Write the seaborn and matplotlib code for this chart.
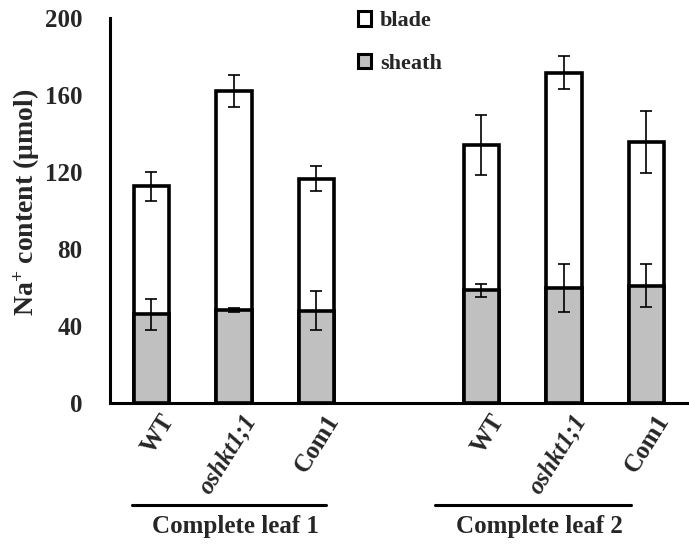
import matplotlib
matplotlib.use("Agg")
import matplotlib.pyplot as plt
import matplotlib.transforms as mtransforms
from matplotlib.patches import Patch
import seaborn as sns
import pandas as pd
import numpy as np

# ---- data ----
genotypes = ["WT", "oshkt1;1", "Com1", "WT", "oshkt1;1", "Com1"]
groups = ["Complete leaf 1", "Complete leaf 2"]
positions = [0, 1, 2, 4, 5, 6]
sheath = [46, 48.5, 48, 58.5, 59.5, 61]
blade = [66.5, 113.5, 68.5, 75.5, 112, 74.5]
sheath_err = [8, 1, 10, 3.5, 12.5, 11]
blade_err = [7.5, 8.5, 6.5, 15.5, 8.5, 16]
yticks = [0, 40, 80, 120, 160, 200]

sns.set_theme(style="white")
plt.rcParams["font.family"] = ["Liberation Serif", "DejaVu Serif"]
plt.rcParams["font.weight"] = "bold"
plt.rcParams["mathtext.fontset"] = "custom"
plt.rcParams["mathtext.rm"] = "Liberation Serif:bold"
plt.rcParams["mathtext.bf"] = "Liberation Serif:bold"
plt.rcParams["mathtext.it"] = "Liberation Serif:bold:italic"

total = [s + b for s, b in zip(sheath, blade)]
df = pd.DataFrame({"pos": positions, "sheath": sheath, "total": total})

fig = plt.figure(figsize=(6.89, 5.44), dpi=100)
ax = fig.add_axes([0.160, 0.2592, 0.838, 0.708])

lw = 2.6
sns.barplot(data=df, x="pos", y="total", native_scale=True, width=0.43,
            color="white", edgecolor="black", linewidth=lw, errorbar=None,
            saturation=1, ax=ax, zorder=2)
sns.barplot(data=df, x="pos", y="sheath", native_scale=True, width=0.43,
            color="#c0c0c0", edgecolor="black", linewidth=lw, errorbar=None,
            saturation=1, ax=ax, zorder=3)

ax.errorbar(positions, total, yerr=blade_err, fmt="none", ecolor="black",
            elinewidth=1.2, capsize=4.5, capthick=1.2, zorder=4)
ax.errorbar(positions, sheath, yerr=sheath_err, fmt="none", ecolor="black",
            elinewidth=1.2, capsize=4.5, capthick=1.2, zorder=4)

ax.set_ylim(0, 200)
ax.set_xlim(-0.5, 6.45)
ax.set_yticks(yticks)
ax.set_yticklabels([str(t) for t in yticks], fontsize=18, fontweight="bold")
ax.set_ylabel(r"Na$^{+}$ content (μmol)", fontsize=20, fontweight="bold")
ax.yaxis.set_label_coords(-0.119, 0.522)
ax.set_xlabel("")

# genotype labels (rotated) placed just below each bar
ax.set_xticks(positions)
ax.set_xticklabels([])
ax.tick_params(axis="x", which="major", length=0)
trans = mtransforms.blended_transform_factory(ax.transData, ax.transAxes)
for p, g in zip(positions, genotypes):
    ax.annotate(g, xy=(p, 0), xycoords=trans, xytext=(12.5, -9.5),
                textcoords="offset points", rotation=58, rotation_mode="anchor",
                ha="right", va="center", fontsize=18, fontweight="bold",
                fontstyle="italic" if g == "oshkt1;1" else "normal",
                annotation_clip=False)

ax.set_xticks([p - 0.5 for p in [0, 1, 2, 3, 4, 5, 6, 7]], minor=True)
ax.tick_params(axis="x", which="minor", direction="in", length=5, width=2)
ax.tick_params(axis="y", direction="in", length=6, width=2, pad=20)

for side in ["top", "right"]:
    ax.spines[side].set_visible(False)
for side in ["left", "bottom"]:
    ax.spines[side].set_linewidth(2.2)
    ax.spines[side].set_color("black")

# group lines and labels
group_spans = [(-0.24, 2.12), (3.44, 5.81)]
for (x0, x1), g in zip(group_spans, groups):
    ax.plot([x0, x1], [-0.265, -0.265], color="black", lw=2.2, transform=trans,
            clip_on=False)
    ax.text((x0 + x1) / 2 + 0.08, -0.32, g, transform=trans, ha="center", va="center",
            fontsize=18, fontweight="bold")

handles = [Patch(facecolor="white", edgecolor="black", linewidth=2.2, label="blade"),
           Patch(facecolor="#c0c0c0", edgecolor="black", linewidth=2.2, label="sheath")]
leg = fig.legend(handles=handles, loc="upper left", bbox_to_anchor=(0.49, 1.016),
                 frameon=False, handlelength=0.6, handleheight=0.6, handletextpad=0.4,
                 labelspacing=1.0, prop={"family": "Liberation Serif", "weight": "bold",
                                         "size": 16})

fig.savefig("out.png", dpi=100)
